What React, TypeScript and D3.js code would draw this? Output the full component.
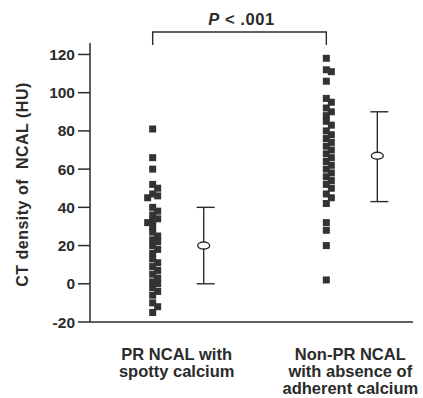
import React from "react";
import * as d3 from "d3";

// categories and their printed (multi-line) labels
const categories = ["PR", "NonPR"];
const categoryLines = [
  ["PR NCAL with", "spotty calcium"],
  ["Non-PR NCAL", "with absence of", "adherent calcium"],
];

// individual CT densities (HU)
const prValues = [
  81, 66, 60, 52, 50, 47, 46, 45, 40, 38, 36, 34, 33, 32, 30, 27, 25, 23,
  22, 20, 18, 16, 13, 11, 9, 7, 5, 3, 1, 0, -2, -4, -6, -10, -12, -15,
];
const nonPrValues = [
  118, 112, 111, 106, 97, 95, 92, 90, 88, 85, 83, 80, 78, 76, 74, 72, 70,
  68, 66, 64, 62, 60, 58, 56, 54, 52, 50, 47, 45, 42, 32, 28, 20, 2,
];

// mean and error bar limits per group
const means = [20, 67];
const lowers = [0, 43];
const uppers = [40, 90];

const yTicks = [-20, 0, 20, 40, 60, 80, 100, 120];
const yLabel = "CT density of  NCAL (HU)";
const pText = ".001";

const W = 423;
const H = 398;
const margin = { top: 43, right: 10, bottom: 76, left: 90 };
const SQ = 7;
const ink = "#2b2b2b";
const font = "'Liberation Sans', Arial, Helvetica, sans-serif";

// simple dodge so squares sit side by side like the printed figure
function dodge(values: number[], y: d3.ScaleLinear<number, number>) {
  const placed: { cy: number; dx: number }[] = [];
  const step = 5;
  const sorted = [...values].sort((a, b) => b - a);
  return sorted.map((v) => {
    const cy = y(v);
    let k = 0;
    let dx = 0;
    for (;;) {
      dx = k === 0 ? 0 : (k % 2 === 1 ? 1 : -1) * Math.ceil(k / 2) * step;
      const hit = placed.some((p) => Math.abs(p.cy - cy) < 5 && Math.abs(p.dx - dx) < 5);
      if (!hit) break;
      k++;
    }
    placed.push({ cy, dx });
    return { v, cy, dx };
  });
}

export default function App() {
  const y = d3.scaleLinear().domain([-20, 126]).range([H - margin.bottom, margin.top]);
  const x = d3
    .scalePoint<string>()
    .domain(categories)
    .range([margin.left, W - margin.right])
    .padding(0.43);

  const dataOffset = -12;
  const summaryOffset = 39;
  const labelOffset = 12;

  const groups = [prValues, nonPrValues].map((vals) => dodge(vals, y));
  const bottom = H - margin.bottom;
  const bracketY = margin.top - 11;
  const bx0 = x(categories[0])! + dataOffset;
  const bx1 = x(categories[1])! + dataOffset;

  return (
    <svg
      width={W}
      height={H}
      style={{ position: "absolute", left: 0, top: 0, background: "#fff" }}
      fontFamily={font}
      fontWeight="bold"
    >
      {/* y axis */}
      <line x1={margin.left} x2={margin.left} y1={margin.top} y2={bottom} stroke={ink} strokeWidth={1.5} />
      {yTicks.map((t) => (
        <g key={t} transform={`translate(0,${y(t)})`}>
          <line x1={margin.left - 12} x2={margin.left} stroke={ink} strokeWidth={1.5} />
          <text x={margin.left - 15} dy="0.36em" textAnchor="end" fontSize={15.5} fill={ink}>
            {t}
          </text>
        </g>
      ))}
      {/* x axis */}
      <line x1={margin.left} x2={W - margin.right} y1={bottom} y2={bottom} stroke={ink} strokeWidth={1.5} />

      <text
        transform={`translate(28,${(margin.top + bottom) / 2 + 2}) rotate(-90)`}
        textAnchor="middle"
        fontSize={16}
        letterSpacing={0.5}
        fill={ink}
        style={{ whiteSpace: "pre" }}
      >
        {yLabel}
      </text>

      {/* scatter */}
      {groups.map((pts, gi) =>
        pts.map((p, i) => (
          <rect
            key={`${gi}-${i}`}
            x={x(categories[gi])! + dataOffset + p.dx - SQ / 2}
            y={p.cy - SQ / 2}
            width={SQ}
            height={SQ}
            fill="#333"
          />
        ))
      )}

      {/* mean and error bars */}
      {categories.map((c, i) => {
        const cx = x(c)! + summaryOffset;
        return (
          <g key={c} stroke={ink} strokeWidth={1.4} fill="#fff">
            <line x1={cx} x2={cx} y1={y(uppers[i])} y2={y(lowers[i])} />
            <line x1={cx - 7} x2={cx + 11} y1={y(uppers[i])} y2={y(uppers[i])} />
            <line x1={cx - 7} x2={cx + 11} y1={y(lowers[i])} y2={y(lowers[i])} />
            <ellipse cx={cx} cy={y(means[i])} rx={6} ry={3.5} />
          </g>
        );
      })}

      {/* significance bracket */}
      <path
        d={`M${bx0},${bracketY + 13}V${bracketY}H${bx1}V${bracketY + 13}`}
        fill="none"
        stroke={ink}
        strokeWidth={1.4}
      />
      <text
        x={(bx0 + bx1) / 2 + 2}
        y={bracketY - 7}
        textAnchor="middle"
        fontSize={16.5}
        letterSpacing={0.6}
        fill={ink}
        style={{ whiteSpace: "pre" }}
      >
        <tspan fontStyle="italic">P</tspan>
        {" < "}
        {pText}
      </text>

      {/* category labels */}
      {categories.map((c, i) => (
        <text key={c} textAnchor="middle" fontSize={16.5} fill={ink}>
          {categoryLines[i].map((ln, j) => (
            <tspan key={j} x={x(c)! + labelOffset} y={bottom + 38 + j * 16.8}>
              {ln}
            </tspan>
          ))}
        </text>
      ))}
    </svg>
  );
}
